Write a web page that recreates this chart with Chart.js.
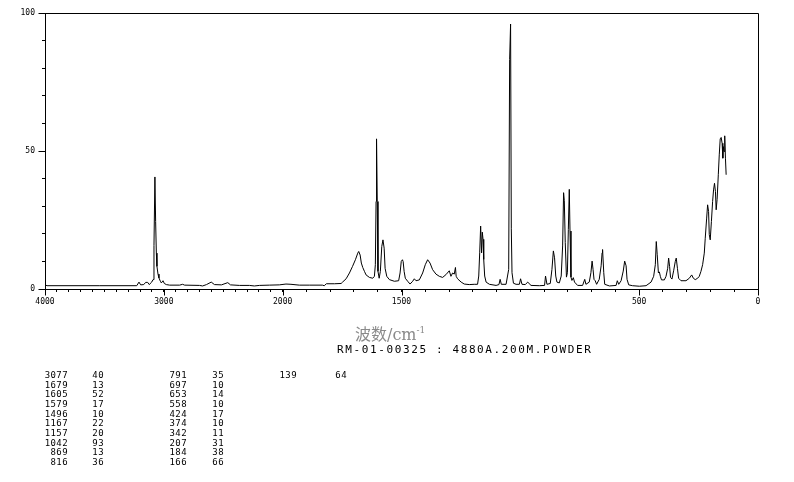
<!DOCTYPE html>
<html>
<head>
<meta charset="utf-8">
<script src="https://cdn.jsdelivr.net/npm/chart.js@4/dist/chart.umd.min.js"></script>
<style>
  body { margin: 0; background: #fff; }
  #wrap { position: relative; width: 794px; height: 482px; }
  #wrap canvas { position: absolute; left: 0; top: 0; }
  .txt { position: absolute; white-space: pre; color: #000; }
  #xtitle { left: 355px; top: 321px; font: 16px "DejaVu Serif", "Noto Sans CJK SC", serif; color: #8a8a8a; }
  #xtitle sup { font-size: 9px; vertical-align: 7px; }
  #sample { left: 337px; top: 343px; font: 11px "DejaVu Sans Mono", monospace; letter-spacing: 1.62px; }
  .pk { position: absolute; font: 9px "DejaVu Sans Mono", monospace; letter-spacing: 0.4px; line-height: 10px; }
</style>
</head>
<body>
<div id="wrap">
  <canvas id="spec" width="794" height="482"></canvas>
  <div class="txt" id="xtitle">波数/cm<sup>-1</sup></div>
  <div class="txt" id="sample">RM-01-00325 : 4880A.200M.POWDER</div>
</div>
<script>
// espectro (numero de onda em cm-1, intensidade)
const wavenumber = [
  4000,3983,3539,3228,3209,3195,3169,3153,3136,3123,
  3102,3091,3083,3075,3069,3063,3058,3049,3041,3029,
  3021,3007,2996,2979,2951,2867,2842,2825,2700,2674,
  2641,2601,2574,2515,2462,2439,2364,2280,2238,2196,
  2112,2028,1986,1965,1930,1888,1833,1825,1816,1782,
  1754,1748,1733,1719,1706,1694,1684,1680,1674,1669,
  1663,1656,1649,1635,1621,1614,1610,1607,1605,1602,
  1599,1594,1589,1583,1578,1573,1569,1562,1551,1530,
  1512,1506,1501,1496,1493,1489,1484,1474,1464,1453,
  1446,1439,1425,1411,1400,1390,1380,1369,1355,1341,
  1327,1313,1299,1292,1285,1278,1273,1270,1264,1249,
  1236,1215,1194,1180,1175,1171,1167,1163,1160,1157,
  1154,1150,1144,1130,1102,1090,1085,1080,1060,1049,
  1045,1041,1038,1035,1029,1018,1004,999,993,979,
  969,955,920,898,894,888,874,867,861,856,
  851,846,836,828,822,818,815,811,806,802,
  798,794,791,787,783,777,772,759,738,729,
  724,710,703,698,694,690,685,679,668,660,
  656,654,649,645,625,597,592,586,576,567,
  561,555,551,544,528,499,471,450,439,432,
  428,424,419,415,411,406,394,387,380,376,
  372,368,362,355,348,344,339,334,324,303,
  289,279,272,264,254,247,240,233,226,222,
  216,212,208,205,201,196,191,187,183,179,
  176,172,167,163,159,155,151,148,146,143,
  140,137,134
];
const intensity = [
  1.5,1.2,1.2,1.2,2.5,1.5,1.6,2.4,2.4,1.6,
  2.5,3.4,15.7,40.6,24.5,13,8.2,5.4,4.0,2.8,
  2.2,3.0,2.0,1.6,1.4,1.4,1.7,1.4,1.3,1.1,
  1.6,2.5,1.6,1.5,2.3,1.5,1.3,1.3,1.1,1.3,
  1.4,1.5,1.8,1.7,1.4,1.4,1.4,1.2,1.9,1.9,
  2.0,2.5,3.7,5.8,8.2,10.6,13.0,13.6,12.3,9.4,
  7.8,6.4,5.1,4.2,3.9,4.6,8.8,31.7,54.4,31.7,
  6.4,3.9,6.4,15.4,17.8,14.8,7.5,4.6,3.4,2.8,
  3.0,5.8,10.0,10.6,9.9,6.4,3.9,2.8,1.8,2.8,
  3.7,3.0,3.3,5.8,8.8,10.6,9.4,7.0,5.4,4.6,
  4.2,5.2,6.6,4.6,5.8,5.4,7.8,4.6,3.7,2.5,
  1.8,1.6,1.7,1.7,4.7,13.1,22.8,13.1,20.6,18,
  10.7,4.7,2.5,1.7,1.3,1.6,3.5,1.7,1.7,7.1,
  83.1,96.0,21.8,5.9,2.1,1.7,1.7,3.7,1.7,1.6,
  2.5,1.3,1.2,1.3,4.7,1.7,2.0,7.1,13.8,11.3,
  4.7,2.5,2.2,4.7,15.6,34.9,32,16.8,4.3,5.9,
  21.6,36.1,21,4.3,3.1,4.1,2.5,1.3,1.3,3.5,
  1.7,2.5,5.9,10.1,7.1,3.5,3.0,1.7,3.5,8.4,
  13.1,14.3,5.9,1.7,1.1,1.3,3.0,1.7,3.0,6.5,
  10.1,8.4,3.5,1.5,1.2,1.0,1.2,2.5,4.6,8.8,
  17.2,12.4,5.8,6.2,4.6,3.3,3.3,4.6,7.5,11.2,
  8.2,4.2,3.6,6.6,10.0,11.2,7.5,3.9,3.0,3.0,
  3.9,5.1,3.9,3.4,3.9,4.6,6.4,8.8,13.0,18.4,
  25.7,30.5,28.1,19.7,17.8,24.5,31.7,35.9,38.3,35.3,
  28.7,32.5,41.4,48.6,54.4,54.9,52.8,47.4,51.6,49.8,
  55.5,47.4,41.4
];

// eixos
const xTicks = [];
for (let w = 4000; w >= 0; w -= 100) xTicks.push(w);
const xLabels = [4000, 3000, 2000, 1500, 500, 0];
const yTicks = [0, 10, 20, 30, 40, 50, 60, 70, 80, 90, 100];
const yLabels = [0, 50, 100];

// tabela de picos
const peakWn = [3077,1679,1605,1579,1496,1167,1157,1042,869,816,
                791,697,653,558,424,374,342,207,184,166,
                139];
const peakInt = [40,13,52,17,10,22,20,93,13,36,
                 35,10,14,10,17,10,11,31,38,66,
                 64];

// acima de 2000 cm-1 a escala fica comprimida pela metade
function toAxis(w) {
  return w > 2000 ? 2000 + (w - 2000) / 2 : w;
}

// monta a tabela de picos em colunas de 10
function buildPeakTable() {
  const wrap = document.getElementById("wrap");
  const wnRight = [68, 187, 297];
  const intRight = [104, 224, 347];
  for (let i = 0; i < peakWn.length; i++) {
    const col = Math.floor(i / 10), row = i % 10;
    const top = 370 + row * 9.67;
    const a = document.createElement("div");
    a.className = "pk";
    a.textContent = peakWn[i];
    a.style.top = top + "px";
    a.style.right = (794 - wnRight[col]) + "px";
    wrap.appendChild(a);
    const b = document.createElement("div");
    b.className = "pk";
    b.textContent = peakInt[i];
    b.style.top = top + "px";
    b.style.right = (794 - intRight[col]) + "px";
    wrap.appendChild(b);
  }
}

// moldura e tracos maiores dos eixos
const framePlugin = {
  id: "frame",
  afterDraw(chart) {
    const ctx = chart.ctx, a = chart.chartArea;
    const x = chart.scales.x, y = chart.scales.y;
    const L = Math.round(a.left) + 0.5, R = Math.round(a.right) + 0.5;
    const T = Math.round(a.top) + 0.5, B = Math.round(a.bottom) + 0.5;
    ctx.save();
    ctx.strokeStyle = "#000";
    ctx.lineWidth = 1;
    ctx.beginPath();
    ctx.moveTo(L, T); ctx.lineTo(R, T); ctx.lineTo(R, B);
    yLabels.forEach(v => {
      const py = Math.round(y.getPixelForValue(v)) + 0.5;
      ctx.moveTo(L - 7, py); ctx.lineTo(L, py);
    });
    xLabels.forEach(w => {
      const px = Math.round(x.getPixelForValue(toAxis(w))) + 0.5;
      ctx.moveTo(px, B); ctx.lineTo(px, B + 6);
    });
    ctx.stroke();
    ctx.restore();
  }
};

function buildChart() {
  const points = wavenumber.map((w, i) => ({ x: toAxis(w), y: intensity[i] }));
  Chart.defaults.font.family = "'DejaVu Sans Mono', monospace";
  Chart.defaults.font.size = 8;
  Chart.defaults.color = "#000";
  new Chart(document.getElementById("spec"), {
    type: "line",
    data: {
      datasets: [{
        data: points,
        borderColor: "#000",
        borderWidth: 1,
        pointRadius: 0,
        tension: 0,
        fill: false
      }]
    },
    options: {
      responsive: false,
      animation: false,
      devicePixelRatio: 1,
      layout: { padding: { left: 0, top: 13, right: 36, bottom: 173 } },
      plugins: { legend: { display: false }, tooltip: { enabled: false } },
      scales: {
        x: {
          type: "linear",
          min: 0,
          max: 3000,
          reverse: true,
          afterBuildTicks: s => { s.ticks = xTicks.map(w => ({ value: toAxis(w) })); },
          afterFit: s => { s.height = 20; },
          border: { color: "#000", width: 1 },
          grid: { drawOnChartArea: false, tickLength: 3, color: "#000" },
          ticks: {
            autoSkip: false,
            maxRotation: 0,
            padding: 5,
            callback: (v, i) => xLabels.includes(xTicks[i]) ? String(xTicks[i]) : ""
          }
        },
        y: {
          min: 0,
          max: 100,
          afterBuildTicks: s => { s.ticks = yTicks.map(v => ({ value: v })); },
          afterFit: s => { s.width = 45; },
          border: { color: "#000", width: 1 },
          grid: { drawOnChartArea: false, tickLength: 3, color: "#000" },
          ticks: {
            autoSkip: false,
            padding: 7,
            callback: v => yLabels.includes(v) ? String(v) : ""
          }
        }
      }
    },
    plugins: [framePlugin]
  });
}

buildPeakTable();
buildChart();
</script>
</body>
</html>
